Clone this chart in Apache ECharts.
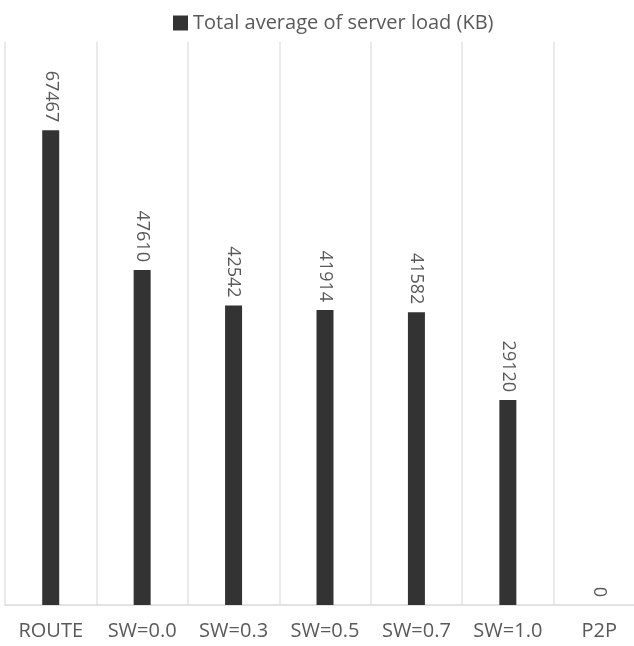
<!DOCTYPE html>
<html>
<head>
<meta charset="utf-8">
<script src="https://cdn.jsdelivr.net/npm/echarts@6/dist/echarts.min.js"></script>
<style>
  html, body { margin: 0; padding: 0; background: #ffffff; }
  #chart { width: 634px; height: 646px; }
</style>
</head>
<body>
<div id="chart"></div>
<script>
// Scenario names along the category axis
const categories = ['ROUTE', 'SW=0.0', 'SW=0.3', 'SW=0.5', 'SW=0.7', 'SW=1.0', 'P2P'];
// Average server load per scenario, in KB
const serverLoad = [67467, 47610, 42542, 41914, 41582, 29120, 0];
const seriesName = 'Total average of server load (KB)';

const chart = echarts.init(document.getElementById('chart'), null, { renderer: 'canvas' });

chart.setOption({
  animation: false,
  backgroundColor: '#ffffff',
  textStyle: { fontFamily: 'Open Sans' },
  legend: {
    data: [seriesName],
    top: 8,
    left: 168,
    itemWidth: 15,
    itemHeight: 15,
    itemGap: 5,
    icon: 'rect',
    textStyle: { color: '#595959', fontSize: 20, fontFamily: 'Open Sans' }
  },
  // the plot area runs slightly past the right edge of the canvas
  grid: {
    left: 5, width: 640, top: 42, bottom: 41,
    containLabel: false,
    outerBoundsMode: 'none'
  },
  xAxis: {
    type: 'category',
    data: categories,
    boundaryGap: true,
    axisLine: { show: true, lineStyle: { color: '#d9d9d9', width: 1.5 } },
    axisTick: { show: false },
    axisLabel: { color: '#595959', fontSize: 20, margin: 16, fontFamily: 'Open Sans' },
    splitLine: { show: true, interval: 0, lineStyle: { color: '#e3e3e3', width: 1.5 } }
  },
  yAxis: {
    type: 'value',
    min: 0,
    max: 80000,
    show: false,
    splitLine: { show: false }
  },
  series: [{
    name: seriesName,
    type: 'bar',
    data: serverLoad,
    barWidth: 17,
    itemStyle: { color: '#333333' },
    label: {
      show: true,
      position: 'top',
      rotate: -90,
      align: 'right',
      verticalAlign: 'middle',
      distance: 8,
      color: '#595959',
      fontSize: 18,
      fontFamily: 'Open Sans'
    }
  }]
});
</script>
</body>
</html>
